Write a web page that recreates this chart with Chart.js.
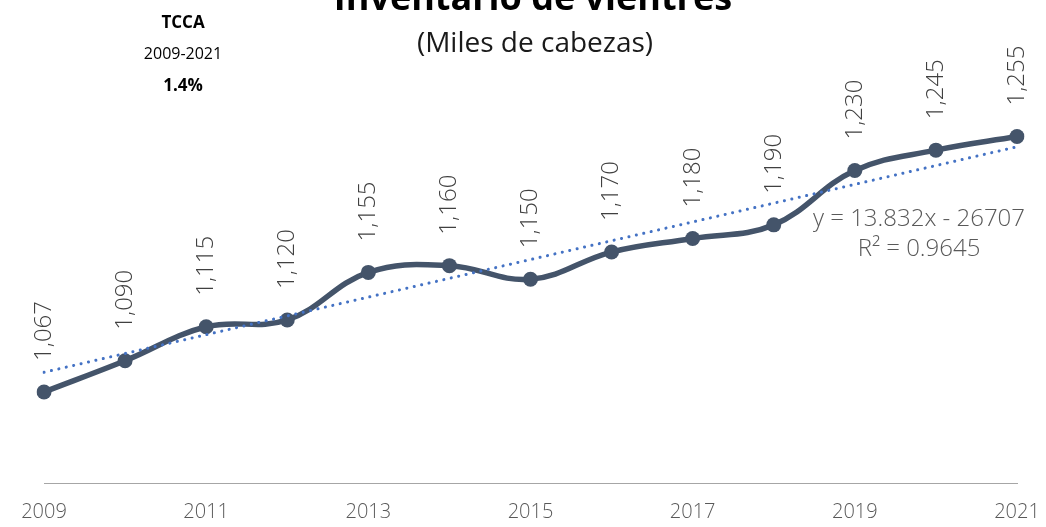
<!DOCTYPE html>
<html>
<head>
<meta charset="utf-8">
<script src="https://cdn.jsdelivr.net/npm/chart.js@4/dist/chart.umd.min.js"></script>
<style>
  body { margin: 0; background: #fff; }
  #wrap { position: relative; width: 1046px; height: 527px; overflow: hidden; font-family: "Open Sans", sans-serif; }
  .txt { position: absolute; white-space: nowrap; }
  #title { left: 0; width: 1066px; text-align: center; top: -28px; font-size: 36px; font-weight: 700; color: #000; }
  #subtitle { left: 0; width: 1070px; text-align: center; top: 22px; font-size: 28px; font-weight: 400; color: #1a1a1a; }
  #tcca { left: 133px; width: 100px; text-align: center; top: 6px; color: #000; font-size: 17px; line-height: 31px; }
  #tcca span { font-size: 16px; }
  #eq { left: 789px; width: 260px; text-align: center; top: 202px; color: #595959; font-size: 24px; font-weight: 300; line-height: 30px; }
</style>
</head>
<body>
<div id="wrap">
  <canvas id="chart" width="1046" height="527"></canvas>
  <div class="txt" id="title">Inventario de vientres</div>
  <div class="txt" id="subtitle">(Miles de cabezas)</div>
  <div class="txt" id="tcca"><b>TCCA</b><br><span>2009-2021</span><br><b>1.4%</b></div>
  <div class="txt" id="eq"><div>y = 13.832x - 26707</div><div>R² = 0.9645</div></div>
</div>
<script>
const years = ["2009", "2010", "2011", "2012", "2013", "2014", "2015", "2016", "2017", "2018", "2019", "2020", "2021"];
const vientres = [1067, 1090, 1115, 1120, 1155, 1160, 1150, 1170, 1180, 1190, 1230, 1245, 1255];

// trendline as printed on the chart: y = 13.832x - 26707
const trendSlope = 13.832;
const trendIntercept = -26707;
const trend = years.map((y, i) => (i === 0 || i === years.length - 1) ? trendSlope * Number(y) + trendIntercept : null);

const labelPlugin = {
  id: "pointLabels",
  afterDatasetsDraw(chart) {
    const ctx = chart.ctx;
    const meta = chart.getDatasetMeta(1);
    ctx.save();
    ctx.font = "300 24px 'Open Sans'";
    ctx.fillStyle = "#404040";
    ctx.textAlign = "left";
    ctx.textBaseline = "middle";
    meta.data.forEach((pt, i) => {
      ctx.save();
      ctx.translate(pt.x, pt.y - 31);
      ctx.rotate(-Math.PI / 2);
      ctx.fillText(vientres[i].toLocaleString("en-US"), 0, 0);
      ctx.restore();
    });
    ctx.restore();
  }
};

new Chart(document.getElementById("chart").getContext("2d"), {
  type: "line",
  data: {
    labels: years,
    datasets: [
      {
        label: "Tendencia",
        data: trend,
        spanGaps: true,
        borderColor: "#4472C4",
        borderWidth: 3,
        borderDash: [0.1, 7.5],
        borderCapStyle: "round",
        pointRadius: 0,
        tension: 0,
        order: 0,
      },
      {
        label: "Vientres",
        data: vientres,
        borderColor: "#44546A",
        backgroundColor: "#44546A",
        borderWidth: 5.5,
        pointRadius: 7.5,
        pointBackgroundColor: "#44546A",
        pointBorderWidth: 0,
        tension: 0.4,
        order: 1,
      },
    ],
  },
  options: {
    responsive: false,
    animation: false,
    layout: { padding: { left: 44, right: 29, top: 0, bottom: 0 } },
    plugins: { legend: { display: false }, tooltip: { enabled: false } },
    scales: {
      x: {
        offset: false,
        grid: { display: false },
        border: { display: true, color: "#A6A6A6", width: 1 },
        afterFit(scale) {
          scale.height = 44;
          scale.paddingLeft = 0;
          scale.paddingRight = 0;
        },
        ticks: {
          autoSkip: false,
          maxRotation: 0,
          padding: 9,
          color: "#595959",
          font: { family: "Open Sans", size: 20, weight: 300 },
          callback: function (val, i) { return i % 2 === 0 ? this.getLabelForValue(val) : ""; },
        },
      },
      y: { display: false, min: 1000, max: 1350 },
    },
  },
  plugins: [labelPlugin],
});
</script>
</body>
</html>
